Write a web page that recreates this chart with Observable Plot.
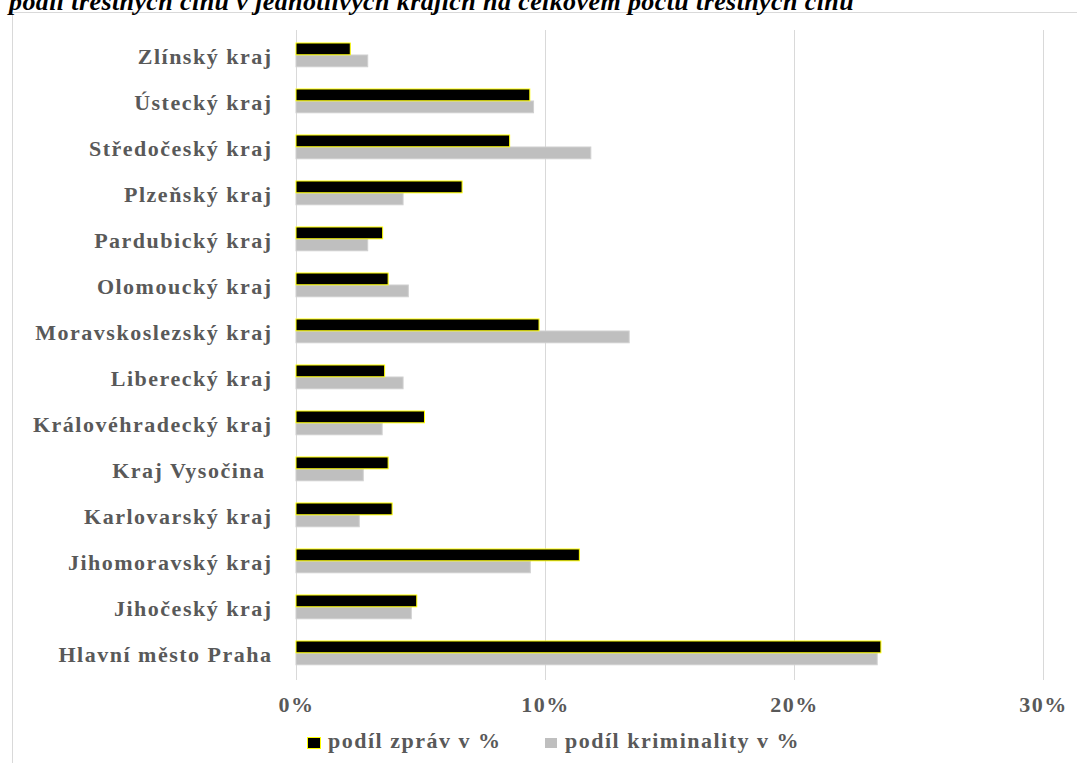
<!DOCTYPE html>
<html><head><meta charset="utf-8">
<script src="https://cdn.jsdelivr.net/npm/d3@7"></script>
<script src="https://cdn.jsdelivr.net/npm/@observablehq/plot@0.6"></script>
<style>
html,body{margin:0;padding:0;background:#fff;}
#wrap{position:relative;width:1077px;height:763px;overflow:hidden;font-family:"Liberation Serif","Times New Roman",serif;}
#title{position:absolute;left:9px;top:-11.5px;font-size:26px;line-height:26px;letter-spacing:0.4px;font-weight:bold;font-style:italic;white-space:nowrap;color:#000;}
.bt{position:absolute;left:12px;top:12px;width:1065px;height:1px;background:#d9d9d9;}
.bl{position:absolute;left:12px;top:12px;width:1px;height:751px;background:#d9d9d9;}
#chart{position:absolute;left:0;top:0;}
.lg{position:absolute;top:729.6px;font-size:22px;line-height:22px;letter-spacing:1.5px;font-weight:bold;color:#595959;white-space:nowrap;}
.sw{position:absolute;top:737px;height:10px;}
</style></head>
<body><div id="wrap">
<div class="bt"></div><div class="bl"></div>
<div id="chart"></div>
<div id="title">podíl trestných činů v jednotlivých krajích na celkovém počtu trestných činů</div>
<div id="legend"></div>
</div>
<script>
const regions = ["Zlínský kraj","Ústecký kraj","Středočeský kraj","Plzeňský kraj","Pardubický kraj","Olomoucký kraj","Moravskoslezský kraj","Liberecký kraj","Královéhradecký kraj","Kraj Vysočina\u00a0","Karlovarský kraj","Jihomoravský kraj","Jihočeský kraj","Hlavní město Praha"];
const podilZprav = [2.18, 9.39, 8.58, 6.67, 3.48, 3.70, 9.76, 3.56, 5.16, 3.70, 3.86, 11.38, 4.85, 23.49];
const podilKriminality = [2.88, 9.54, 11.84, 4.30, 2.88, 4.51, 13.38, 4.30, 3.46, 2.70, 2.54, 9.41, 4.63, 23.34];
const xTicks = [0, 10, 20, 30];
const seriesNames = ["podíl zpráv v %", "podíl kriminality v %"];

const zprav = regions.map((r, i) => ({region: r, value: podilZprav[i]}));
const krim = regions.map((r, i) => ({region: r, value: podilKriminality[i]}));

const band = (678 - 31) / regions.length;

const chart = Plot.plot({
  width: 1077,
  height: 763,
  marginTop: 31,
  marginBottom: 85,
  marginLeft: 296,
  marginRight: 34,
  style: {fontFamily: "'Liberation Serif','Times New Roman',serif", fontSize: "22px", fontWeight: "bold", letterSpacing: "1.5px", color: "#595959", background: "transparent"},
  x: {domain: [0, 30], label: null},
  y: {domain: regions, padding: 0, label: null},
  marks: [
    Plot.ruleX(xTicks, {x: d => d, stroke: "#d9d9d9", strokeWidth: 1, strokeOpacity: 1, insetTop: -1, insetBottom: -2}),
    Plot.barX(krim, {y: "region", x: "value", fill: "#bfbfbf", stroke: "#d0d0d0", strokeWidth: 1, insetTop: 22, insetBottom: band - 34}),
    Plot.barX(zprav, {y: "region", x: "value", fill: "#000", stroke: "#ffff00", strokeWidth: 1, insetTop: 10, insetBottom: band - 22}),
    Plot.axisX({ticks: xTicks, tickFormat: d => d + "%", tickSize: 0, tickPadding: 17.4, label: null, fontSize: 22, fill: "#595959"}),
    Plot.axisY({tickSize: 0, tickPadding: 24, label: null, fontSize: 22, fill: "#595959"})
  ]
});
document.getElementById("chart").appendChild(chart);

const lg = document.getElementById("legend");
lg.innerHTML =
  `<div class="sw" style="left:307px;width:12px;background:#000;border:1px solid #ffff00"></div>` +
  `<div class="lg" style="left:328px">${seriesNames[0]}</div>` +
  `<div class="sw" style="left:545px;width:12px;top:738px;background:#bfbfbf"></div>` +
  `<div class="lg" style="left:565px">${seriesNames[1]}</div>`;
</script>
</body></html>
